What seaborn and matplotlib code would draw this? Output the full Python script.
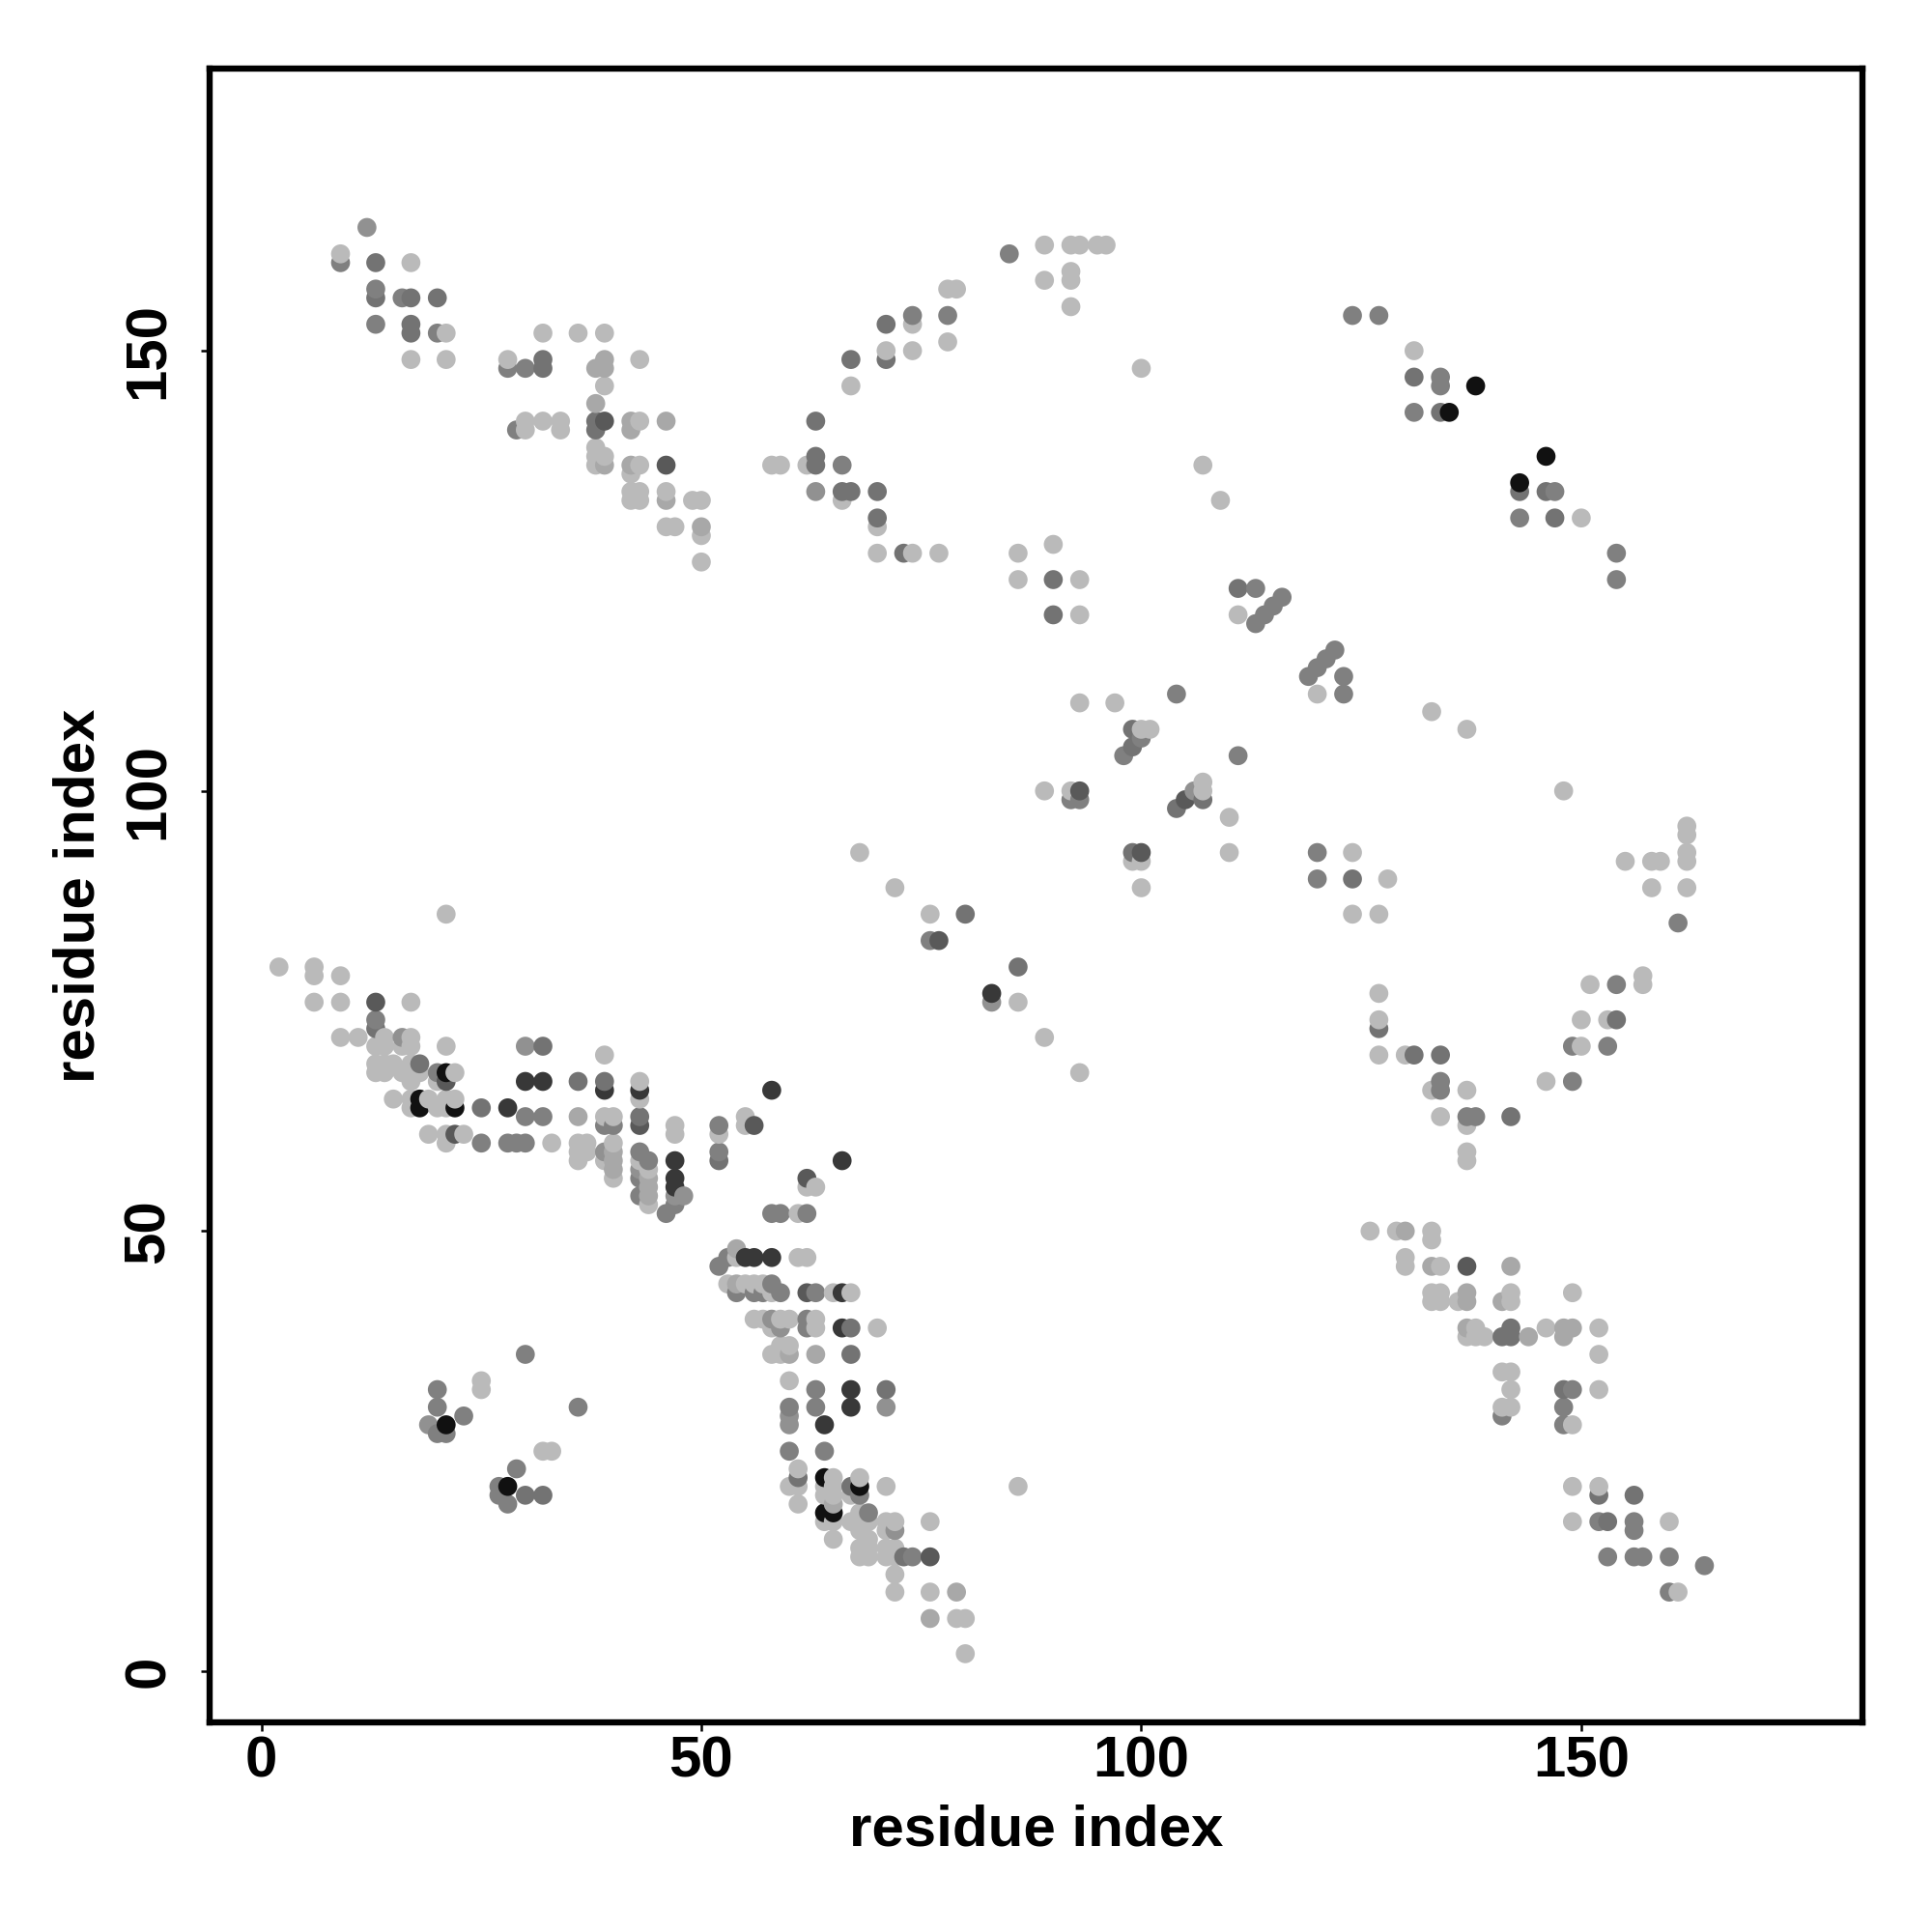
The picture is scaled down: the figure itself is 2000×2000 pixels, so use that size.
import matplotlib
matplotlib.use('Agg')
import matplotlib.pyplot as plt
import pandas as pd
import seaborn as sns

# contacts (x, y), one list per grey level
black_pts = [(21, 68), (18, 65), (18, 64), (22, 64), (64, 22), (68, 21), (65, 18), (64, 18),
             (28, 21), (21, 28), (138, 146), (135, 143), (146, 138), (143, 135)]
dark_pts = [(30, 67), (32, 67), (39, 66), (43, 66), (28, 64), (47, 58), (47, 56), (47, 55),
            (55, 47), (56, 47), (58, 47), (66, 43), (66, 39), (67, 32), (67, 30), (64, 28),
            (58, 66), (66, 58), (83, 77)]
deep_pts = [(13, 76), (21, 67), (43, 62), (56, 62), (22, 61), (62, 43), (46, 137), (76, 13),
            (137, 46), (39, 142), (62, 56), (77, 83), (105, 99), (100, 93), (93, 100)]
grey_pts = [(13, 73), (36, 67), (39, 67), (43, 63), (52, 58), (67, 36), (71, 32), (67, 39),
            (61, 22), (67, 21), (13, 160), (13, 156), (17, 156), (20, 156), (17, 153), (17, 152),
            (32, 149), (32, 148), (38, 142), (38, 141), (73, 13), (134, 143), (131, 147),
            (142, 39), (141, 38), (142, 38), (148, 32), (152, 20), (156, 20), (153, 17),
            (63, 138), (63, 137), (67, 134), (66, 134), (70, 134), (70, 131), (67, 149),
            (71, 153), (71, 149), (73, 127), (90, 124), (90, 120), (111, 123), (99, 107),
            (99, 105), (104, 98), (107, 99), (99, 93), (124, 90), (127, 73), (131, 70), (134, 70),
            (142, 63), (154, 74), (143, 134), (146, 134), (147, 131), (63, 142), (80, 86),
            (86, 80), (30, 20), (32, 20), (18, 69), (25, 64), (32, 71)]
mid_pts = [(13, 74), (30, 63), (32, 63), (39, 62), (40, 62), (52, 62), (25, 60), (28, 60),
           (29, 60), (30, 60), (20, 68), (43, 59), (44, 58), (43, 56), (43, 54), (47, 53),
           (46, 52), (52, 59), (58, 52), (59, 52), (62, 52), (53, 47), (52, 46), (54, 43),
           (56, 43), (58, 44), (59, 43), (63, 43), (62, 40), (62, 39), (63, 32), (63, 30),
           (60, 30), (60, 25), (64, 25), (68, 20), (69, 18), (74, 13), (9, 160), (13, 157),
           (16, 156), (13, 153), (20, 152), (28, 148), (30, 148), (29, 141), (141, 29),
           (148, 30), (148, 28), (149, 32), (20, 32), (20, 30), (20, 27), (21, 27), (23, 29),
           (30, 36), (36, 30), (29, 23), (27, 21), (27, 20), (28, 19), (152, 17), (156, 17),
           (156, 16), (153, 13), (156, 13), (157, 13), (160, 13), (164, 12), (160, 9),
           (124, 154), (127, 154), (134, 147), (134, 146), (131, 143), (143, 131), (147, 134),
           (154, 127), (154, 124), (113, 123), (113, 119), (114, 120), (115, 121), (116, 122),
           (119, 113), (120, 114), (121, 115), (122, 116), (123, 113), (123, 111), (104, 111),
           (100, 106), (98, 104), (111, 104), (92, 99), (93, 99), (120, 93), (120, 90),
           (161, 85), (154, 78), (149, 71), (153, 71), (149, 67), (134, 67), (134, 66),
           (137, 63), (138, 63), (85, 161), (74, 154), (78, 154), (66, 137), (76, 83), (57, 43)]
soft_pts = [(72, 16), (12, 164), (16, 72), (30, 71), (39, 59), (43, 57), (47, 54), (48, 54),
            (60, 29), (60, 28), (71, 30), (58, 40), (59, 39), (19, 28), (63, 134), (106, 100),
            (83, 76)]
pale_pts = [(36, 63), (40, 59), (40, 58), (40, 57), (44, 56), (44, 55), (44, 54), (54, 48),
            (54, 44), (60, 36), (63, 36), (65, 19), (79, 9), (76, 6), (38, 148), (39, 148),
            (39, 149), (38, 144), (42, 142), (42, 141), (46, 142), (39, 137), (42, 137),
            (46, 133), (50, 130), (130, 50), (133, 46), (142, 46), (137, 43), (137, 42),
            (141, 42), (137, 39), (144, 38), (148, 39), (149, 39), (148, 38)]
light_pts = [(2, 80), (6, 80), (6, 79), (9, 79), (6, 76), (9, 76), (17, 76), (9, 72), (11, 72),
             (14, 72), (17, 72), (13, 71), (14, 71), (16, 71), (17, 71), (21, 71), (39, 70),
             (13, 69), (14, 69), (15, 69), (17, 69), (13, 68), (14, 68), (16, 68), (17, 68),
             (18, 68), (22, 68), (17, 67), (20, 67), (43, 67), (43, 65), (15, 65), (17, 65),
             (19, 65), (21, 65), (22, 65), (17, 64), (20, 64), (21, 64), (39, 63), (40, 63),
             (47, 62), (47, 61), (52, 61), (55, 63), (55, 62), (19, 61), (21, 61), (23, 61),
             (21, 60), (33, 60), (36, 60), (37, 60), (36, 59), (37, 59), (36, 58), (40, 60),
             (39, 58), (40, 56), (43, 58), (44, 57), (44, 53), (54, 47), (61, 52), (61, 47),
             (62, 47), (53, 44), (55, 44), (56, 44), (57, 44), (58, 43), (65, 43), (67, 43),
             (56, 40), (57, 40), (59, 40), (60, 40), (63, 40), (58, 39), (63, 39), (70, 39),
             (59, 37), (60, 37), (58, 36), (59, 36), (60, 33), (61, 23), (60, 21), (61, 21),
             (61, 19), (65, 22), (64, 21), (65, 21), (64, 20), (65, 20), (68, 22), (67, 20),
             (71, 21), (86, 21), (64, 17), (65, 17), (65, 15), (67, 17), (68, 18), (68, 17),
             (69, 17), (68, 16), (71, 17), (72, 17), (71, 16), (76, 17), (69, 15), (68, 14),
             (69, 14), (68, 13), (69, 13), (71, 14), (72, 14), (71, 13), (72, 13), (72, 11),
             (72, 9), (76, 9), (79, 6), (80, 6), (80, 2), (9, 161), (17, 160), (21, 152),
             (17, 149), (21, 149), (32, 152), (36, 152), (39, 152), (28, 149), (43, 149),
             (39, 146), (30, 142), (30, 141), (32, 142), (34, 142), (34, 141), (43, 142),
             (38, 139), (38, 138), (39, 138), (38, 137), (43, 137), (42, 136), (42, 134),
             (43, 134), (42, 133), (43, 133), (46, 134), (49, 133), (50, 133), (46, 130),
             (47, 130), (50, 129), (50, 126), (126, 50), (129, 50), (133, 50), (133, 49),
             (130, 47), (130, 46), (134, 46), (133, 43), (134, 43), (133, 42), (134, 42),
             (136, 42), (142, 43), (142, 42), (149, 43), (138, 39), (137, 38), (138, 38),
             (139, 38), (146, 39), (152, 39), (152, 36), (141, 34), (142, 34), (142, 32),
             (141, 30), (142, 30), (152, 32), (149, 28), (149, 21), (152, 21), (25, 33), (25, 32),
             (32, 25), (33, 25), (149, 17), (160, 17), (161, 9), (63, 55), (62, 55), (21, 86),
             (76, 86), (68, 93), (72, 89), (86, 76), (89, 72), (93, 68), (58, 137), (59, 137),
             (62, 137), (66, 133), (70, 130), (70, 127), (74, 127), (77, 127), (67, 146),
             (71, 150), (74, 153), (74, 150), (78, 157), (79, 157), (78, 151), (89, 162),
             (89, 158), (92, 162), (93, 162), (95, 162), (96, 162), (92, 159), (92, 158),
             (92, 155), (100, 148), (131, 150), (150, 131), (107, 137), (109, 133), (86, 127),
             (86, 124), (90, 128), (93, 124), (93, 120), (111, 120), (120, 111), (93, 110),
             (97, 110), (133, 109), (137, 107), (100, 107), (101, 107), (89, 100), (92, 100),
             (107, 101), (107, 100), (110, 97), (110, 93), (99, 92), (100, 92), (100, 89),
             (124, 93), (128, 90), (124, 86), (127, 86), (148, 100), (162, 96), (162, 95),
             (162, 93), (162, 92), (155, 92), (158, 92), (159, 92), (158, 89), (162, 89),
             (157, 79), (157, 78), (151, 78), (150, 74), (153, 74), (150, 71), (146, 67),
             (127, 77), (127, 74), (127, 70), (130, 70), (133, 66), (137, 66), (134, 63),
             (137, 62), (137, 59), (137, 58)]
grey_levels = [0.07, 0.22, 0.35, 0.45, 0.5, 0.57, 0.66, 0.73]
tick_values = [0, 50, 100, 150]

rows = []
all_pts = [black_pts, dark_pts, deep_pts, grey_pts, mid_pts, soft_pts, pale_pts, light_pts]
for pts, level in zip(all_pts, grey_levels):
    for x, y in pts:
        rows.append({'x': x, 'y': y, 'level': level})
# later residues are painted on top of earlier ones
df = pd.DataFrame(rows).sort_values(['x', 'y'])

sns.set_theme(style='white')
plt.rcParams['font.family'] = ['Liberation Sans', 'DejaVu Sans']
plt.rcParams['font.weight'] = 'bold'

fig = plt.figure(figsize=(10, 10), dpi=200)
ax = fig.add_axes([0.1084, 0.1085, 0.8558, 0.8558])

sns.scatterplot(x='x', y='y', hue='level', data=df, palette='gray', hue_norm=(0, 1),
                s=50, linewidth=0, legend=False, ax=ax)

ax.set_xlim(-5.9, 182)
ax.set_ylim(-5.8, 182)
ax.set_xticks(tick_values)
ax.set_yticks(tick_values)

# graph settings
for spine in ax.spines.values():
    spine.set_color('black')
    spine.set_linewidth(2.3)
ax.tick_params(axis='both', bottom=True, left=True, length=3.2, width=0.9, color='black',
               labelsize=21.6, labelcolor='black')
ax.tick_params(axis='x', pad=1.8)
ax.tick_params(axis='y', pad=9.3)
plt.setp(ax.get_yticklabels(), rotation=90, va='center')

ax.set_xlabel('residue index', fontsize=21.6, fontweight='bold', color='black', va='center')
ax.set_ylabel('residue index', fontsize=21.6, fontweight='bold', color='black', va='center')
ax.xaxis.set_label_coords(0.5, -0.0652)
ax.yaxis.set_label_coords(-0.079, 0.5)

fig.savefig('out.png', dpi=200, facecolor='white')
